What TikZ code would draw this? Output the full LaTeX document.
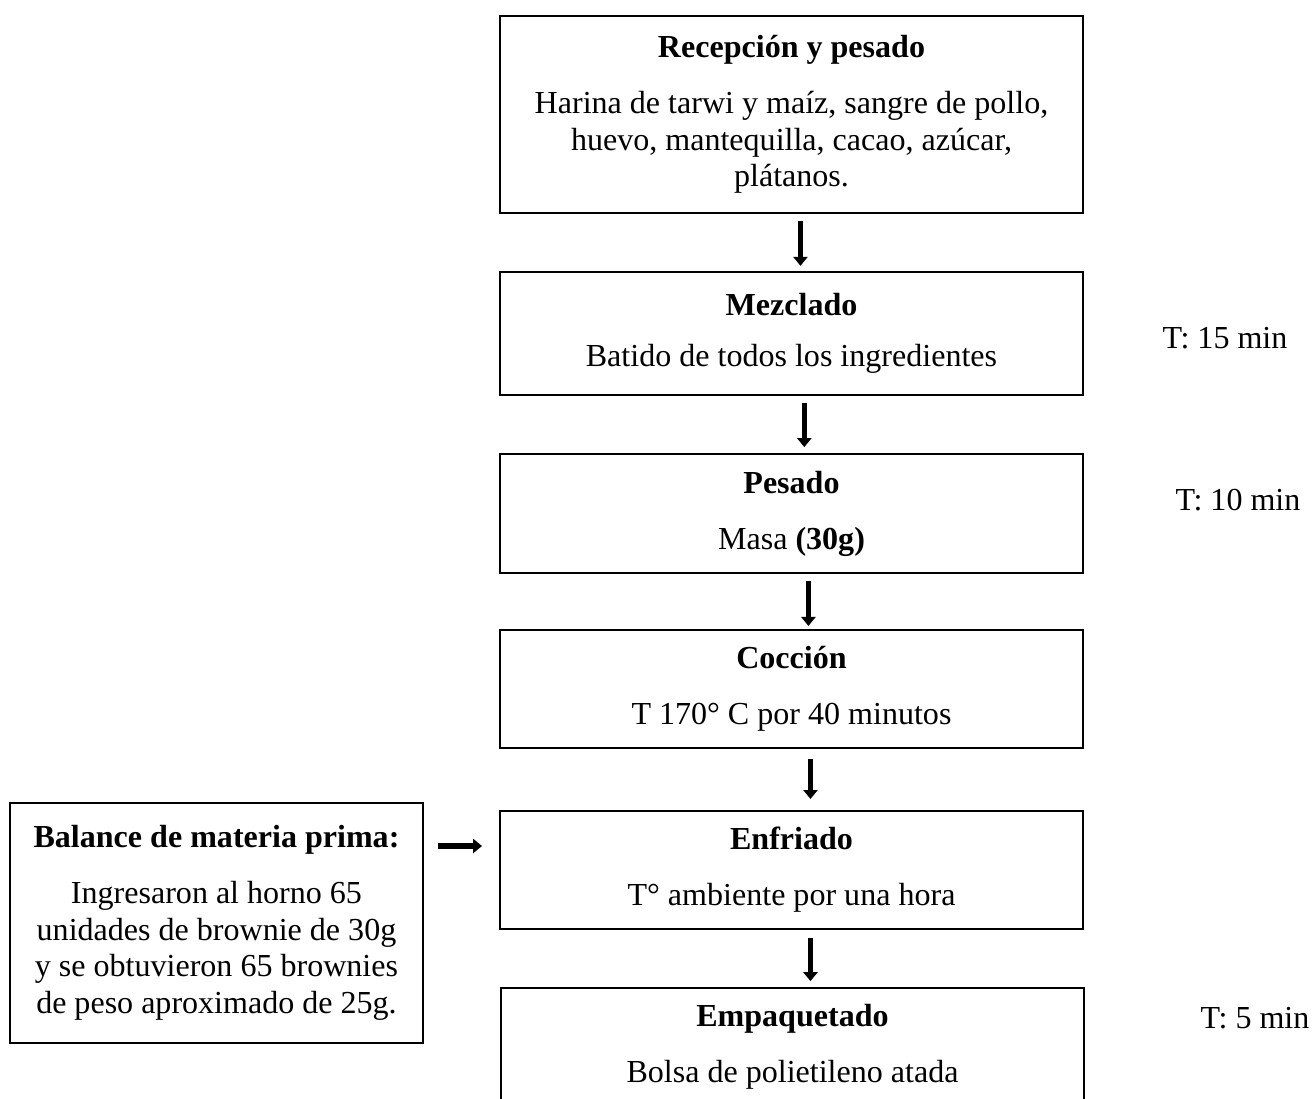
\documentclass[tikz,border=0pt]{standalone}
\usepackage{fontspec}
\setmainfont{Liberation Serif}
\usetikzlibrary{arrows.meta}

\tikzset{
  caja/.style={draw,line width=0.8pt,minimum width=227.4pt,align=center,inner sep=0pt,font=\fontsize{12.5}{14.3}\selectfont},
  flecha/.style={line width=2pt,-{Triangle[width=5.5pt,length=3.5pt]}},
  tiempo/.style={anchor=base,font=\fontsize{12.5}{14.3}\selectfont}
}

\begin{document}
\begin{tikzpicture}[x=0.39pt,y=-0.39pt]
\useasboundingbox (0,0) rectangle (1313,1099);
\clip (0,0) rectangle (1313,1099);

\node[caja,minimum height=76.8pt] (rec) at (791.5,114.5) {\textbf{Recepción y pesado}\\[7.5pt]Harina de tarwi y maíz, sangre de pollo,\\huevo, mantequilla, cacao, azúcar,\\plátanos.};
\node[caja,minimum height=48pt] (mez) at (791.5,333.5) {\textbf{Mezclado}\\[5.5pt]Batido de todos los ingredientes};
\node[caja,minimum height=46.4pt] (pes) at (791.5,513.5) {\textbf{Pesado}\\[7.5pt]Masa \textbf{(30g)}};
\node[caja,minimum height=46pt] (coc) at (791.5,689) {\textbf{Cocción}\\[7.5pt]T 170° C por 40 minutos};
\node[caja,minimum height=46pt] (enf) at (791.5,870) {\textbf{Enfriado}\\[7.5pt]T° ambiente por una hora};
\node[caja,minimum height=46pt] (emp) at (792.5,1047) {\textbf{Empaquetado}\\[7.5pt]Bolsa de polietileno atada};
\node[caja,minimum width=161pt,minimum height=93.6pt] (bal) at (216.5,923) {\textbf{Balance de materia prima:}\\[7.5pt]Ingresaron al horno 65\\unidades de brownie de 30g\\y se obtuvieron 65 brownies\\de peso aproximado de 25g.};

\node[tiempo] (t1) at (1225,348) {T: 15 min};
\node[tiempo] (t2) at (1238,510) {T: 10 min};
\node[tiempo] (t3) at (1255,1028) {T: 5 min};

\draw[flecha,shorten <=2.7pt,shorten >=2pt] ([xshift=3.5pt]rec.south) -- ([xshift=3.5pt]mez.north);
\draw[flecha,shorten <=2.7pt,shorten >=2.3pt] ([xshift=5pt]mez.south) -- ([xshift=5pt]pes.north);
\draw[flecha,shorten <=2.7pt,shorten >=1.2pt] ([xshift=6.6pt]pes.south) -- ([xshift=6.6pt]coc.north);
\draw[flecha,shorten <=3.9pt,shorten >=4.3pt] ([xshift=7.4pt]coc.south) -- ([xshift=7.4pt]enf.north);
\draw[flecha,shorten <=3.1pt,shorten >=2.3pt] ([xshift=7.4pt]enf.south) -- ([xshift=7.4pt]enf.south |- emp.north);

\coordinate (hb) at (0,846);
\draw[flecha,shorten <=5.5pt,shorten >=6.6pt] (bal.east |- hb) -- (enf.west |- hb);

\end{tikzpicture}
\end{document}
